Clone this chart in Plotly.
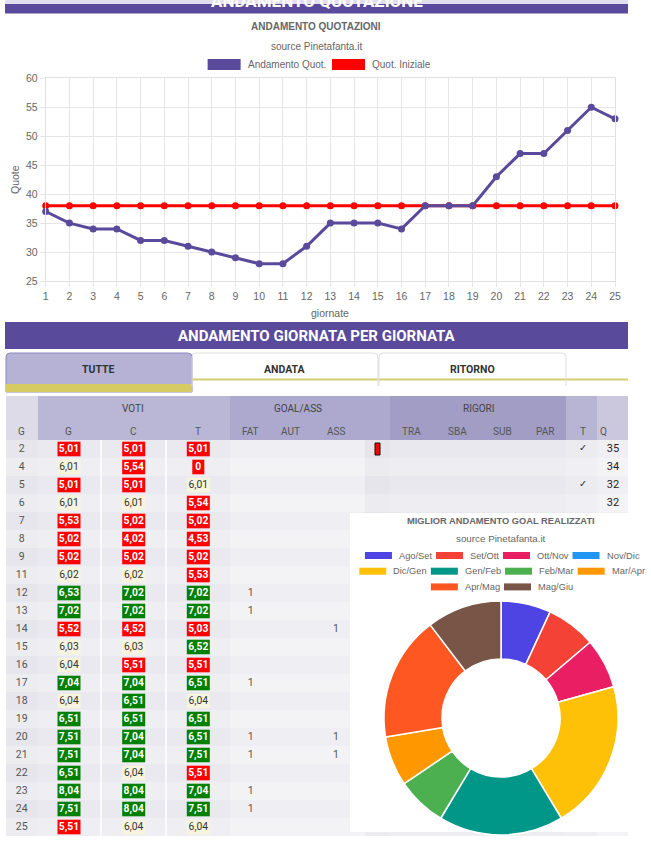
import plotly.graph_objects as go

W, H = 651, 846
PURPLE = "#5a4a9c"

# ---------------- data: line chart ----------------
giornate = [1, 2, 3, 4, 5, 6, 7, 8, 9, 10, 11, 12, 13, 14, 15, 16, 17, 18, 19, 20, 21, 22, 23, 24, 25]
andamento_quot = [37, 35, 34, 34, 32, 32, 31, 30, 29, 28, 28, 31, 35, 35, 35, 34, 38, 38, 38, 43, 47, 47, 51, 55, 53]
quot_iniziale = [38, 38, 38, 38, 38, 38, 38, 38, 38, 38, 38, 38, 38, 38, 38, 38, 38, 38, 38, 38, 38, 38, 38, 38, 38]
y_ticks = [25, 30, 35, 40, 45, 50, 55, 60]

# ---------------- data: table ----------------
tab_giornate = [2, 4, 5, 6, 7, 8, 9, 11, 12, 13, 14, 15, 16, 17, 18, 19, 20, 21, 22, 23, 24, 25]
voti_g = [5.01, 6.01, 5.01, 6.01, 5.53, 5.02, 5.02, 6.02, 6.53, 7.02, 5.52, 6.03, 6.04, 7.04, 6.04, 6.51, 7.51, 7.51, 6.51, 8.04, 7.51, 5.51]
voti_c = [5.01, 5.54, 5.01, 6.01, 5.02, 4.02, 5.02, 6.02, 7.02, 7.02, 4.52, 6.03, 5.51, 7.04, 6.51, 6.51, 7.04, 7.04, 6.04, 8.04, 8.04, 6.04]
voti_t = [5.01, 0, 6.01, 5.54, 5.02, 4.53, 5.02, 5.53, 7.02, 7.02, 5.03, 6.52, 5.51, 6.51, 6.04, 6.51, 6.51, 7.51, 5.51, 7.04, 7.51, 6.04]
goal_fatti = [0, 0, 0, 0, 0, 0, 0, 0, 1, 1, 0, 0, 0, 1, 0, 0, 1, 1, 0, 1, 1, 0]
assist = [0, 0, 0, 0, 0, 0, 0, 0, 0, 0, 1, 0, 0, 0, 0, 0, 1, 1, 0, 0, 0, 0]
cartellino_rosso = [1, 0, 0, 0, 0, 0, 0, 0, 0, 0, 0, 0, 0, 0, 0, 0, 0, 0, 0, 0, 0, 0]
titolare_visibili = [1, 0, 1, 0]
quot_visibili = [35, 34, 32, 32]

# ---------------- data: donut ----------------
mesi = ["Ago/Set", "Set/Ott", "Ott/Nov", "Nov/Dic", "Dic/Gen", "Gen/Feb", "Feb/Mar", "Mar/Apr", "Apr/Mag", "Mag/Giu"]
goal_mese = [1, 1, 1, 0, 3, 2.5, 1, 1, 2.5, 1.5]
colori_mesi = ["#4d44e3", "#f44336", "#e91e63", "#2196f3", "#ffc107", "#009688", "#4caf50", "#ff9800", "#ff5722", "#795548"]

# ---------------- helpers ----------------
AW = {'a':556,'b':556,'c':500,'d':556,'e':556,'f':278,'g':556,'h':556,'i':222,'j':222,'k':500,'l':222,'m':833,
      'n':556,'o':556,'p':556,'q':556,'r':333,'s':500,'t':278,'u':556,'v':500,'w':722,'x':500,'y':500,'z':500,
      'A':667,'B':667,'C':722,'D':722,'E':667,'F':611,'G':778,'H':722,'I':278,'J':500,'K':667,'L':556,'M':833,
      'N':722,'O':778,'P':667,'Q':778,'R':722,'S':667,'T':611,'U':722,'V':667,'W':944,'X':667,'Y':667,'Z':611,
      '/':278,'.':278,' ':278,',':278}


def tw(s, size):
    return sum(AW.get(ch, 556) for ch in s) * size / 1000.0


shapes = []
annotations = []


def rect(x0, y0, x1, y1, fill, line_color=None, line_width=0):
    shapes.append(dict(type="rect", xref="x2", yref="y2", x0=x0, y0=y0, x1=x1, y1=y1,
                       fillcolor=fill, layer="below",
                       line=dict(color=line_color or fill, width=line_width)))


def label(x, y, text, size=10, color="#666", bold=False, xanchor="center", family="Liberation Sans"):
    annotations.append(dict(xref="x2", yref="y2", x=x, y=y, text=("<b>%s</b>" % text) if bold else text,
                            showarrow=False, xanchor=xanchor, yanchor="middle",
                            font=dict(size=size, color=color, family=family)))


def fmt(v):
    return "0" if v == 0 else ("%.2f" % v).replace(".", ",")


fig = go.Figure()

# ---------------- top header ----------------
rect(5, 0, 628, 13.5, PURPLE)
label(317, 1, "ANDAMENTO QUOTAZIONE", size=17, color="white", bold=True, family="Roboto")
rect(0, 0, 651, 4, "rgba(255,255,255,0.82)")

# chart title, source, legend
label(316, 26, "ANDAMENTO QUOTAZIONI", size=10, color="#666", bold=True)
label(316, 46, "source Pinetafanta.it", size=10, color="#666")
leg_items = [("Andamento Quot.", PURPLE), ("Quot. Iniziale", "#ff0000")]
box_w, gap, sep = 33, 5, 8
tot = sum(box_w + gap + tw(t, 10) for t, _ in leg_items) + sep * (len(leg_items) - 1)
x = 316 - tot / 2 + 2
for t, c in leg_items:
    rect(x, 59, x + box_w, 70, c)
    label(x + box_w + gap, 64.5, t, size=10, color="#666", xanchor="left")
    x += box_w + gap + tw(t, 10) + sep

# line chart plot area (px)
PL, PR, PT, PB = 45.7, 615.0, 78.3, 281.0

fig.add_trace(go.Scatter(x=giornate, y=quot_iniziale, mode="lines+markers", name="Quot. Iniziale",
                         line=dict(color="#ff0000", width=3), marker=dict(color="#ff0000", size=7),
                         cliponaxis=False, hoverinfo="skip", xaxis="x", yaxis="y"))
fig.add_trace(go.Scatter(x=giornate, y=andamento_quot, mode="lines+markers", name="Andamento Quot.",
                         line=dict(color=PURPLE, width=3), marker=dict(color=PURPLE, size=7),
                         cliponaxis=False, hoverinfo="skip", xaxis="x", yaxis="y"))

annotations.append(dict(xref="x2", yref="y2", x=15, y=180, text="Quote", textangle=-90, showarrow=False,
                        font=dict(size=10.5, color="#666", family="Liberation Sans")))
label(330, 313, "giornate", size=10.5, color="#666")

# ---------------- second header + tabs ----------------
rect(5, 322, 628, 349, PURPLE)
label(317, 335.5, "ANDAMENTO GIORNATA PER GIORNATA", size=15, color="white", bold=True, family="Roboto")

shapes.append(dict(type="path", xref="x2", yref="y2", layer="below",
                   path="M 6,392 L 6,357 Q 6,353 10,353 L 188,353 Q 192,353 192,357 L 192,392 Z",
                   fillcolor="#b6b2d6", line=dict(color="#8f88c6", width=1)))
rect(6, 384, 192, 392, "#d6ca63")
rect(192, 378.5, 628, 380.5, "#d8cd73")
for x0, x1 in [(192, 378), (379, 566)]:
    shapes.append(dict(type="path", xref="x2", yref="y2", layer="below",
                       path="M %d,386 L %d,357 Q %d,353 %d,353 L %d,353 Q %d,353 %d,357 L %d,386" %
                            (x0, x0, x0, x0 + 4, x1 - 4, x1, x1, x1),
                       line=dict(color="#dddddd", width=1)))
label(98, 369, "TUTTE", size=10.5, color="#333", bold=True, family="Roboto")
label(285, 369, "ANDATA", size=10.5, color="#333", bold=True, family="Roboto")
label(472, 369, "RITORNO", size=10.5, color="#333", bold=True, family="Roboto")

# ---------------- table ----------------
ROW0, ROW_H = 449, 18
n = len(tab_giornate)
BODY_TOP = ROW0 - ROW_H / 2
BODY_BOT = BODY_TOP + n * ROW_H

head_blocks = [(6, 38, "#dcdbe7"), (38, 230, "#b9b6d6"), (230, 390, "#aca8ce"), (390, 566, "#a29dc4"),
               (566, 597, "#b7b4d4"), (597, 628, "#cbc8de")]
for x0, x1, c in head_blocks:
    rect(x0, 396, x1, BODY_TOP, c)

body_blocks = [(6, 38, "#e6e6ec"), (38, 230, "#e9e9ef"), (230, 365, "#efeff3"), (365, 390, "#e5e5eb"),
               (390, 566, "#e8e8ee"), (566, 597, "#ebebf0"), (597, 628, "#f0f0f4")]
for x0, x1, c in body_blocks:
    rect(x0, BODY_TOP, x1, BODY_BOT, c)
for i in range(n):
    if i % 2 == 1:
        rect(6, BODY_TOP + i * ROW_H, 628, BODY_TOP + (i + 1) * ROW_H, "rgba(255,255,255,0.28)")
for xs in [101, 166]:
    rect(xs - 0.75, BODY_TOP, xs + 0.75, BODY_BOT, "#ffffff")

label(133, 408.5, "VOTI", size=10, color="#444", family="Roboto")
label(298, 408.5, "GOAL/ASS", size=10, color="#444", family="Roboto")
label(478, 408.5, "RIGORI", size=10, color="#444", family="Roboto")
head2 = [(21.6, "G"), (68.5, "G"), (133.5, "C"), (198, "T"), (250.7, "FAT"), (290, "AUT"), (336, "ASS"),
         (411, "TRA"), (457, "SBA"), (502, "SUB"), (545, "PAR"), (583, "T"), (603, "Q")]
for hx, ht in head2:
    label(hx, 431, ht, size=10, color="#555", family="Roboto")

row_y = [ROW0 + i * ROW_H for i in range(n)]
COL_G, COL_VG, COL_VC, COL_VT, COL_FAT, COL_ASS, COL_CARD, COL_T, COL_Q = 21.7, 69, 133.7, 198.3, 250.7, 336, 377.5, 583, 613

badge_x, badge_y, badge_txt, badge_col = [], [], [], []
for cx, vals in [(COL_VG, voti_g), (COL_VC, voti_c), (COL_VT, voti_t)]:
    for i, v in enumerate(vals):
        t = fmt(v)
        w = max(12, 5 * len(t) + 3)
        if v < 6:
            bg, fg = "#ff0000", "#ffffff"
        elif v < 6.5:
            bg, fg = "#f6f4dc", "#333333"
        else:
            bg, fg = "#008000", "#ffffff"
        rect(cx - w / 2, row_y[i] - 7.3, cx + w / 2, row_y[i] + 7.3, bg)
        badge_x.append(cx)
        badge_y.append(row_y[i])
        badge_txt.append(("<b>%s</b>" % t) if fg == "#ffffff" else t)
        badge_col.append(fg)

for i, c in enumerate(cartellino_rosso):
    if c:
        rect(COL_CARD - 2.5, row_y[i] - 6, COL_CARD + 2.5, row_y[i] + 6, "#ff0000", "#111111", 1)

CARD_X0, CARD_X1, CARD_Y0, CARD_Y1 = 350, 651, 513, 832
rect(CARD_X0, CARD_Y0, CARD_X1, CARD_Y1, "#ffffff")

fig.add_trace(go.Scatter(x=[COL_G] * n, y=row_y, text=[str(g) for g in tab_giornate], mode="text",
                         textfont=dict(size=10.5, color="#555", family="Roboto"),
                         hoverinfo="skip", xaxis="x2", yaxis="y2"))
fig.add_trace(go.Scatter(x=badge_x, y=badge_y, text=badge_txt, mode="text",
                         textfont=dict(size=10.3, color=badge_col, family="Roboto"),
                         hoverinfo="skip", xaxis="x2", yaxis="y2"))
ga_x, ga_y = [], []
for i in range(n):
    if goal_fatti[i]:
        ga_x.append(COL_FAT); ga_y.append(row_y[i])
    if assist[i]:
        ga_x.append(COL_ASS); ga_y.append(row_y[i])
fig.add_trace(go.Scatter(x=ga_x, y=ga_y, text=["1"] * len(ga_x), mode="text",
                         textfont=dict(size=10.5, color="#555", family="Roboto"),
                         hoverinfo="skip", xaxis="x2", yaxis="y2"))
tit_y = [row_y[i] for i, t in enumerate(titolare_visibili) if t]
fig.add_trace(go.Scatter(x=[COL_T] * len(tit_y), y=tit_y, text=["✓"] * len(tit_y), mode="text",
                         textfont=dict(size=9.5, color="#333", family="DejaVu Sans"),
                         hoverinfo="skip", xaxis="x2", yaxis="y2"))
fig.add_trace(go.Scatter(x=[COL_Q] * len(quot_visibili), y=row_y[:len(quot_visibili)],
                         text=[str(q) for q in quot_visibili], mode="text",
                         textfont=dict(size=11, color="#222", family="Roboto"),
                         hoverinfo="skip", xaxis="x2", yaxis="y2"))

CX, CY, R = 501, 718, 117
label(CX, 521, "MIGLIOR ANDAMENTO GOAL REALIZZATI", size=9.3, color="#666", bold=True)
label(CX, 538, "source Pinetafanta.it", size=9.8, color="#666")
lsz, lbox, lgap, lsep = 9.3, 27, 5, 6
rows = [list(range(k, min(k + 4, len(mesi)))) for k in range(0, len(mesi), 4)]
for r, idxs in enumerate(rows):
    ly = 555.5 + r * 15.7
    tot = sum(lbox + lgap + tw(mesi[k], lsz) for k in idxs) + lsep * (len(idxs) - 1)
    x = CX - tot / 2
    for k in idxs:
        rect(x, ly - 3.5, x + lbox, ly + 3.5, colori_mesi[k])
        label(x + lbox + lgap, ly, mesi[k], size=lsz, color="#666", xanchor="left")
        x += lbox + lgap + tw(mesi[k], lsz) + lsep

fig.add_trace(go.Pie(labels=mesi, values=goal_mese, hole=0.505, sort=False, direction="clockwise", rotation=0,
                     marker=dict(colors=colori_mesi, line=dict(color="#ffffff", width=1.5)),
                     textinfo="none", hoverinfo="skip", showlegend=False, automargin=False,
                     domain=dict(x=[(CX - R) / W, (CX + R) / W], y=[1 - (CY + R) / H, 1 - (CY - R) / H])))

fig.update_layout(
    width=W, height=H, margin=dict(l=0, r=0, t=0, b=0, pad=0, autoexpand=False),
    paper_bgcolor="#ffffff", plot_bgcolor="rgba(0,0,0,0)", showlegend=False,
    shapes=shapes, annotations=annotations,
    xaxis=dict(domain=[PL / W, PR / W], range=[1, 25], tickmode="array", tickvals=giornate,
               showgrid=True, gridcolor="#e6e6e6", gridwidth=1, zeroline=False, automargin=False,
               showline=True, linecolor="#e0e0e0", mirror=True, ticks="outside", ticklen=5,
               tickcolor="#e6e6e6", tickfont=dict(size=10.5, color="#666", family="Liberation Sans"),
               anchor="y", fixedrange=True),
    yaxis=dict(domain=[1 - PB / H, 1 - PT / H], range=[25, 60], tickmode="array", tickvals=y_ticks,
               showgrid=True, gridcolor="#e6e6e6", gridwidth=1, zeroline=False, automargin=False,
               showline=True, linecolor="#e0e0e0", mirror=True, ticks="outside", ticklen=5,
               tickcolor="#e6e6e6", tickfont=dict(size=10.5, color="#666", family="Liberation Sans"),
               anchor="x", fixedrange=True),
    xaxis2=dict(domain=[0, 1], range=[0, W], visible=False, anchor="y2", fixedrange=True, automargin=False),
    yaxis2=dict(domain=[0, 1], range=[H, 0], visible=False, anchor="x2", fixedrange=True, automargin=False),
)

fig.write_html("out.html", config={"displayModeBar": False})
